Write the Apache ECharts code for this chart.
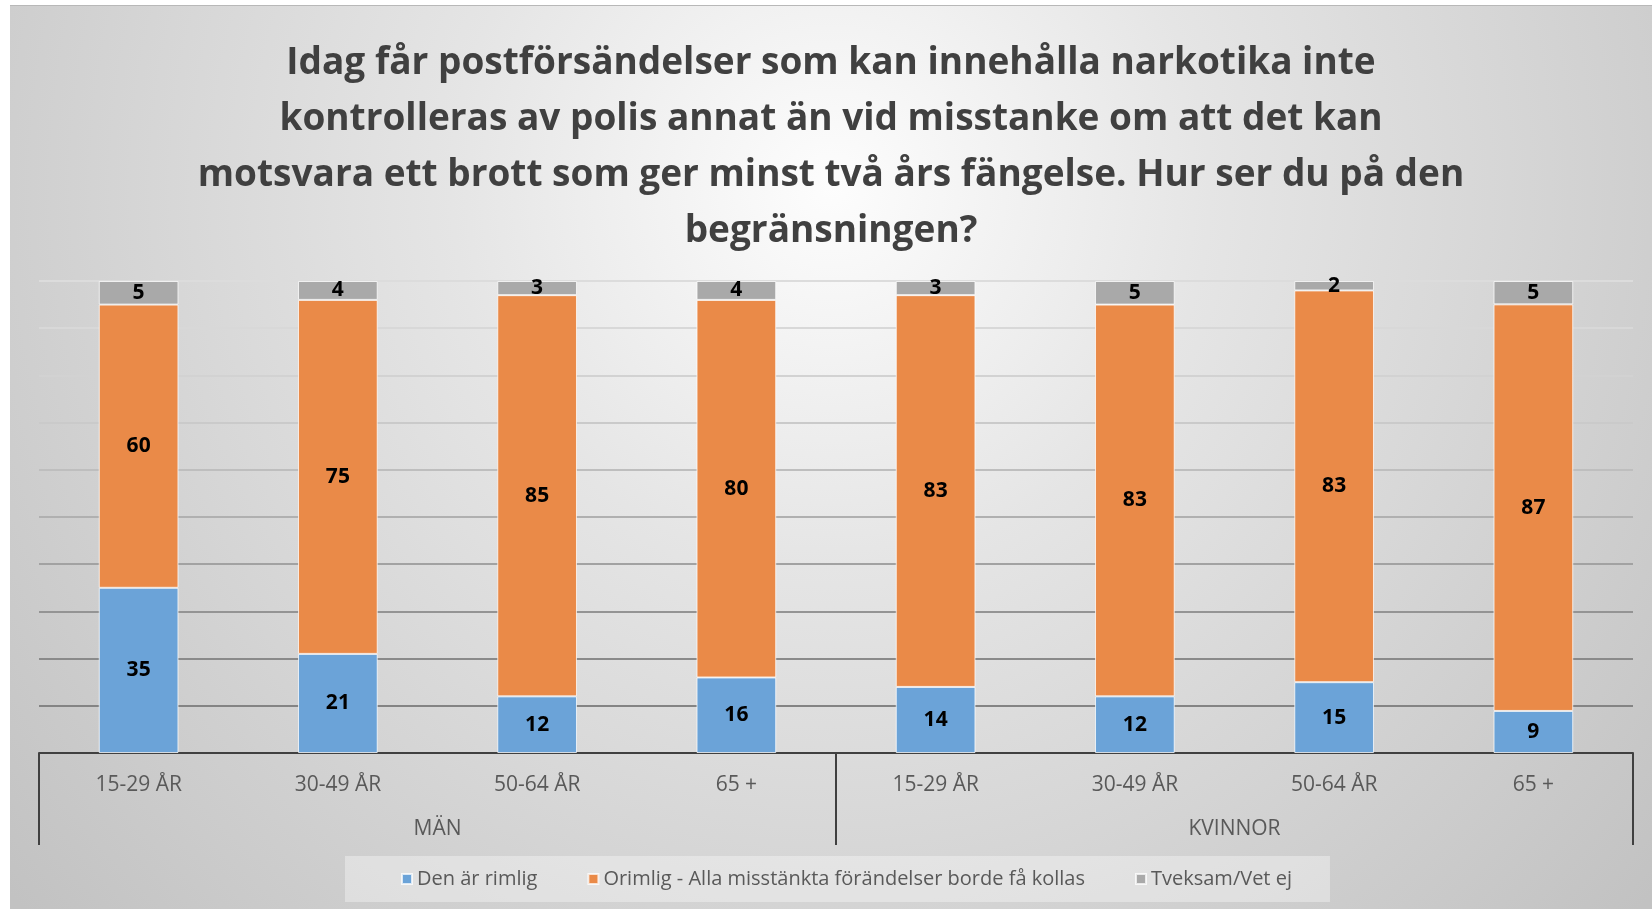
<!DOCTYPE html>
<html>
<head>
<meta charset="utf-8">
<script src="https://cdn.jsdelivr.net/npm/echarts@6/dist/echarts.min.js"></script>
<style>
  html, body { margin: 0; padding: 0; background: #ffffff; }
  #chart { position: absolute; left: 10px; top: 5px; width: 1642px; height: 904px; border-top: 1px solid #b8b8b8; box-sizing: border-box; }
</style>
</head>
<body>
<div id="chart"></div>
<script>
const titleText = 'Idag får postförsändelser som kan innehålla narkotika inte\nkontrolleras av polis annat än vid misstanke om att det kan\nmotsvara ett brott som ger minst två års fängelse. Hur ser du på den\nbegränsningen?';

const ageLabels = ['15-29 ÅR', '30-49 ÅR', '50-64 ÅR', '65 +', '15-29 ÅR', '30-49 ÅR', '50-64 ÅR', '65 +'];
const groupLabels = ['MÄN', 'KVINNOR'];

const rimlig = [35, 21, 12, 16, 14, 12, 15, 9];
const orimlig = [60, 75, 85, 80, 83, 83, 83, 87];
const tveksam = [5, 4, 3, 4, 3, 5, 2, 5];

const seriesNames = ['Den är rimlig', 'Orimlig - Alla misstänkta förändelser borde få kollas', 'Tveksam/Vet ej'];
const colors = ['#6ba3d8', '#ea8a48', '#a9a9a9'];

// 100 % stacked, like the original Excel chart
const totals = rimlig.map((v, i) => v + orimlig[i] + tveksam[i]);
const pct = arr => arr.map((v, i) => v / totals[i] * 100);

const chart = echarts.init(document.getElementById('chart'));

function makeSeries(name, raw, color) {
  return {
    name: name,
    type: 'bar',
    stack: 'total',
    barWidth: '40%',
    data: pct(raw),
    itemStyle: { color: color, borderColor: 'rgba(255,255,255,0.75)', borderWidth: 1 },
    label: {
      show: true,
      position: 'inside',
      color: '#000',
      fontFamily: 'Open Sans',
      fontWeight: 'bold',
      fontSize: 21,
      formatter: p => raw[p.dataIndex]
    }
  };
}

chart.setOption({
  backgroundColor: {
    type: 'radial', x: 0.5, y: 0.2, r: 1.2,
    colorStops: [
      { offset: 0, color: '#fdfdfd' },
      { offset: 0.35, color: '#e5e5e5' },
      { offset: 0.7, color: '#d2d2d2' },
      { offset: 1, color: '#c2c2c2' }
    ]
  },
  title: {
    text: titleText,
    left: 'center',
    top: 24,
    textStyle: {
      fontFamily: 'Open Sans',
      fontWeight: 'bold',
      fontSize: 37,
      lineHeight: 56,
      color: '#404040'
    }
  },
  legend: {
    left: 335,
    top: 850,
    padding: [13, 38, 13, 56],
    backgroundColor: 'rgba(255,255,255,0.35)',
    itemWidth: 10,
    itemHeight: 10,
    itemGap: 50,
    icon: 'rect',
    textStyle: { fontFamily: 'Open Sans', fontSize: 20, color: '#595959' },
    data: seriesNames
  },
  grid: { left: 29, right: 19, top: 275, bottom: 156 },
  xAxis: [
    {
      type: 'category',
      data: ageLabels,
      position: 'bottom',
      axisLine: { show: true, lineStyle: { color: '#404040', width: 2 } },
      axisTick: { show: false },
      axisLabel: { margin: 22, fontFamily: 'Open Sans', fontSize: 21, color: '#595959' }
    },
    {
      type: 'category',
      data: groupLabels,
      position: 'bottom',
      axisLine: { show: false },
      axisTick: { show: true, length: 92, lineStyle: { color: '#404040', width: 2 } },
      axisLabel: { margin: 66, fontFamily: 'Open Sans', fontSize: 21, color: '#595959' },
      splitLine: { show: false }
    }
  ],
  yAxis: {
    type: 'value',
    min: 0,
    max: 100,
    interval: 10,
    axisLine: { show: false },
    axisTick: { show: false },
    axisLabel: { show: false },
    splitLine: {
      show: true,
      lineStyle: {
        width: 2,
        color: ['#7f7f7f', '#848484', '#8a8a8a', '#949494', '#a2a2a2', '#b0b0b0', '#bebebe', '#cacaca', '#d2d2d2', '#d8d8d8', '#dcdcdc']
      }
    }
  },
  series: [
    makeSeries(seriesNames[0], rimlig, colors[0]),
    makeSeries(seriesNames[1], orimlig, colors[1]),
    makeSeries(seriesNames[2], tveksam, colors[2])
  ]
});
</script>
</body>
</html>
